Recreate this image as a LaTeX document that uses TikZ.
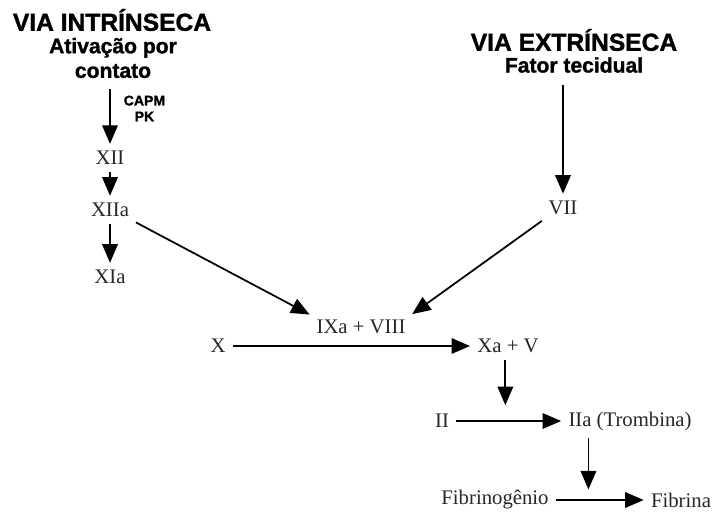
\documentclass[tikz,border=0pt]{standalone}
\usepackage{fontspec}
\setmainfont{Liberation Serif}
\newfontfamily\headfont{Liberation Sans}[BoldFeatures={FakeBold=1.3}]
\usetikzlibrary{arrows.meta, positioning}

\begin{document}
\begin{tikzpicture}[
        x=0.02cm, y=-0.02cm,
        arr/.style={-{Triangle[length=3.7mm, width=3.1mm]}, line width=1pt, shorten <=2pt, shorten >=2pt},
        title/.style={font=\headfont\bfseries\fontsize{14}{16}\selectfont, align=center},
        sub/.style={font=\headfont\bfseries\fontsize{12}{14}\selectfont, align=center},
        factor/.style={font=\fontsize{11.8}{13}\selectfont, text=black!85, inner sep=2pt}
    ]
        \useasboundingbox (0,0) rectangle (715,511);

        % Intrinsic pathway
        \node[title] (intr) at (112, 20) {VIA INTRÍNSECA};
        \node[sub, inner sep=1pt] (contato) at (113, 58) {Ativação por\\contato};
        \node[factor] (xii) at (110, 158) {XII};
        \node[factor] (xiia) at (110, 210) {XIIa};
        \node[factor] (xia) at (110, 277) {XIa};

        % Extrinsic pathway
        \node[title] (extr) at (574, 40) {VIA EXTRÍNSECA};
        \node[sub, inner sep=1pt] (tecido) at (574, 65) {Fator tecidual};
        \node[factor] (vii) at (563, 208) {VII};

        % Common pathway
        \node[factor] (ixa) at (361, 327) {IXa + VIII};
        \node[factor] (x) at (218, 346) {X};
        \node[factor] (xa) at (508, 346) {Xa + V};
        \node[factor] (ii) at (442, 421) {II};
        \node[factor] (iia) at (630, 421) {IIa (Trombina)};
        \node[factor] (fibrinog) at (495, 500) {Fibrinogênio};
        \node[factor] (fibrina) at (681, 500) {Fibrina};

        % Arrows
        \draw[arr, shorten <=5pt] (contato.south -| xii) -- (xii.north)
            node[midway, right=4pt, font=\headfont\bfseries\fontsize{8}{9}\selectfont, align=center, yshift=3pt] (capm) {CAPM\\PK};
        \draw[arr] (xii) -- (xiia);
        \draw[arr] (xiia) -- (xia);
        \draw[arr, shorten <=6pt] (tecido.south -| vii) -- (vii.north);
        \draw[arr] (xiia.south east) -- (ixa.north west);
        \draw[arr] (vii.south west) -- (ixa.north east);
        \draw[arr] (x) -- (xa);
        \draw[arr] (ii) -- coordinate[pos=.47] (thrombin) (iia);
        \draw[arr] (fibrinog) -- coordinate[pos=.38] (fibrin) (fibrina);
        \draw[arr, shorten >=9pt] (xa.south -| thrombin) -- (thrombin);
        \draw[arr, shorten >=6pt] (iia.south -| fibrin) -- (fibrin);

    \end{tikzpicture}
\end{document}
